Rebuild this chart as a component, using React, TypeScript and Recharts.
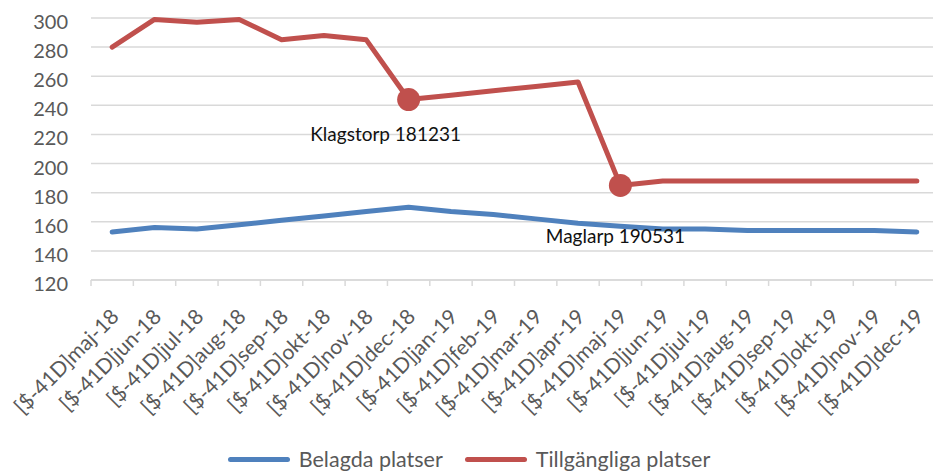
import { LineChart, Line, XAxis, YAxis, CartesianGrid, Legend, LabelList } from 'recharts'

// ─── Data ──────────────────────────────────────────────────────────────────────

const categories = [
  '[$-41D]maj-18', '[$-41D]jun-18', '[$-41D]jul-18', '[$-41D]aug-18', '[$-41D]sep-18',
  '[$-41D]okt-18', '[$-41D]nov-18', '[$-41D]dec-18', '[$-41D]jan-19', '[$-41D]feb-19',
  '[$-41D]mar-19', '[$-41D]apr-19', '[$-41D]maj-19', '[$-41D]jun-19', '[$-41D]jul-19',
  '[$-41D]aug-19', '[$-41D]sep-19', '[$-41D]okt-19', '[$-41D]nov-19', '[$-41D]dec-19',
]

const belagda = [153, 156, 155, 158, 161, 164, 167, 170, 167, 165, 162, 159, 157, 155, 155, 154, 154, 154, 154, 153]

const tillgangliga = [280, 299, 297, 299, 285, 288, 285, 244, 247, 250, 253, 256, 185, 188, 188, 188, 188, 188, 188, 188]

const pointLabels = ['', '', '', '', '', '', '', 'Klagstorp 181231', '', '', '', '', 'Maglarp 190531', '', '', '', '', '', '', '']

const yTicks = [120, 140, 160, 180, 200, 220, 240, 260, 280, 300]

const data = categories.map((month, i) => ({
  month,
  belagda: belagda[i],
  tillgangliga: tillgangliga[i],
  label: pointLabels[i],
}))

// ─── Styling ───────────────────────────────────────────────────────────────────

const FONT = 'Lato, "Open Sans", sans-serif'
const BLUE = '#4F81BD'
const RED = '#C0504D'
const GRID = '#D9D9D9'
const TEXT = '#595959'

// hand-placed data labels, relative to their point
const LABEL_OFFSET: Record<number, [number, number]> = {
  7: [-23, 41],
  12: [-5, 58],
}

function XTick(props: any) {
  const { x, y, payload, index, width, visibleTicksCount } = props
  const band = width / visibleTicksCount
  const tx = x + 8
  const ty = y + 38
  return (
    <g>
      <line x1={x - band / 2} x2={x - band / 2} y1={y} y2={y + 6} stroke={GRID} strokeWidth={1.5} />
      {index === visibleTicksCount - 1 && (
        <line x1={x + band / 2} x2={x + band / 2} y1={y} y2={y + 6} stroke={GRID} strokeWidth={1.5} />
      )}
      <text
        x={tx}
        y={ty}
        transform={`rotate(-45, ${tx}, ${ty})`}
        textAnchor="end"
        fontSize={21}
        fontFamily={FONT}
        fill={TEXT}
      >
        {payload.value}
      </text>
    </g>
  )
}

function YTick(props: any) {
  const { x, y, payload } = props
  return (
    <text x={x - 23} y={y + 11} textAnchor="end" fontSize={20} fontFamily={FONT} fill={TEXT}>
      {payload.value}
    </text>
  )
}

function Marker(props: any) {
  const { cx, cy, index } = props
  if (!pointLabels[index]) return <g key={`m-${index}`} />
  return <circle key={`m-${index}`} cx={cx} cy={cy} r={11.5} fill={RED} />
}

function PointLabel(props: any) {
  const { x, y, value, index } = props
  if (!value) return null
  const [dx, dy] = LABEL_OFFSET[index] ?? [0, 30]
  return (
    <text x={x + dx} y={y + dy} textAnchor="middle" fontSize={19} fontFamily={FONT} fill="#111">
      {value}
    </text>
  )
}

function LegendContent({ payload }: any) {
  return (
    <div style={{ display: 'flex', justifyContent: 'center', alignItems: 'center', gap: 22 }}>
      {(payload ?? []).map((p: any) => (
        <div key={p.value} style={{ display: 'flex', alignItems: 'center', gap: 9 }}>
          <span style={{ width: 62, height: 5, borderRadius: 3, background: p.color, display: 'inline-block' }} />
          <span style={{ fontSize: 21.5, fontFamily: FONT, color: TEXT }}>{p.value}</span>
        </div>
      ))}
    </div>
  )
}

// ─── Component ─────────────────────────────────────────────────────────────────

export default function App() {
  return (
    <div style={{ position: 'absolute', left: 0, top: 0, width: 933, height: 472, overflow: 'hidden', fontFamily: FONT }}>
      <LineChart width={938} height={472} data={data} margin={{ top: 18, right: 0, left: 0, bottom: 42 }}>
        <CartesianGrid vertical={false} stroke={GRID} strokeWidth={1.5} />
        <XAxis
          dataKey="month"
          scale="band"
          interval={0}
          height={150}
          tickSize={0}
          tickMargin={0}
          tickLine={false}
          axisLine={{ stroke: GRID, strokeWidth: 1.5 }}
          tick={<XTick />}
        />
        <YAxis
          width={91}
          domain={[120, 300]}
          ticks={yTicks}
          interval={0}
          tickSize={0}
          tickMargin={0}
          tickLine={false}
          axisLine={false}
          tick={<YTick />}
        />
        <Legend
          verticalAlign="middle"
          align="center"
          layout="horizontal"
          wrapperStyle={{ top: 446, left: 0, width: 938 }}
          content={<LegendContent />}
        />
        <Line
          dataKey="belagda"
          name="Belagda platser"
          stroke={BLUE}
          strokeWidth={5}
          strokeLinejoin="round"
          strokeLinecap="round"
          dot={false}
          activeDot={false}
          isAnimationActive={false}
        />
        <Line
          dataKey="tillgangliga"
          name="Tillgängliga platser"
          stroke={RED}
          strokeWidth={5}
          strokeLinejoin="round"
          strokeLinecap="round"
          dot={<Marker />}
          activeDot={false}
          isAnimationActive={false}
        >
          <LabelList dataKey="label" content={<PointLabel />} />
        </Line>
      </LineChart>
    </div>
  )
}
